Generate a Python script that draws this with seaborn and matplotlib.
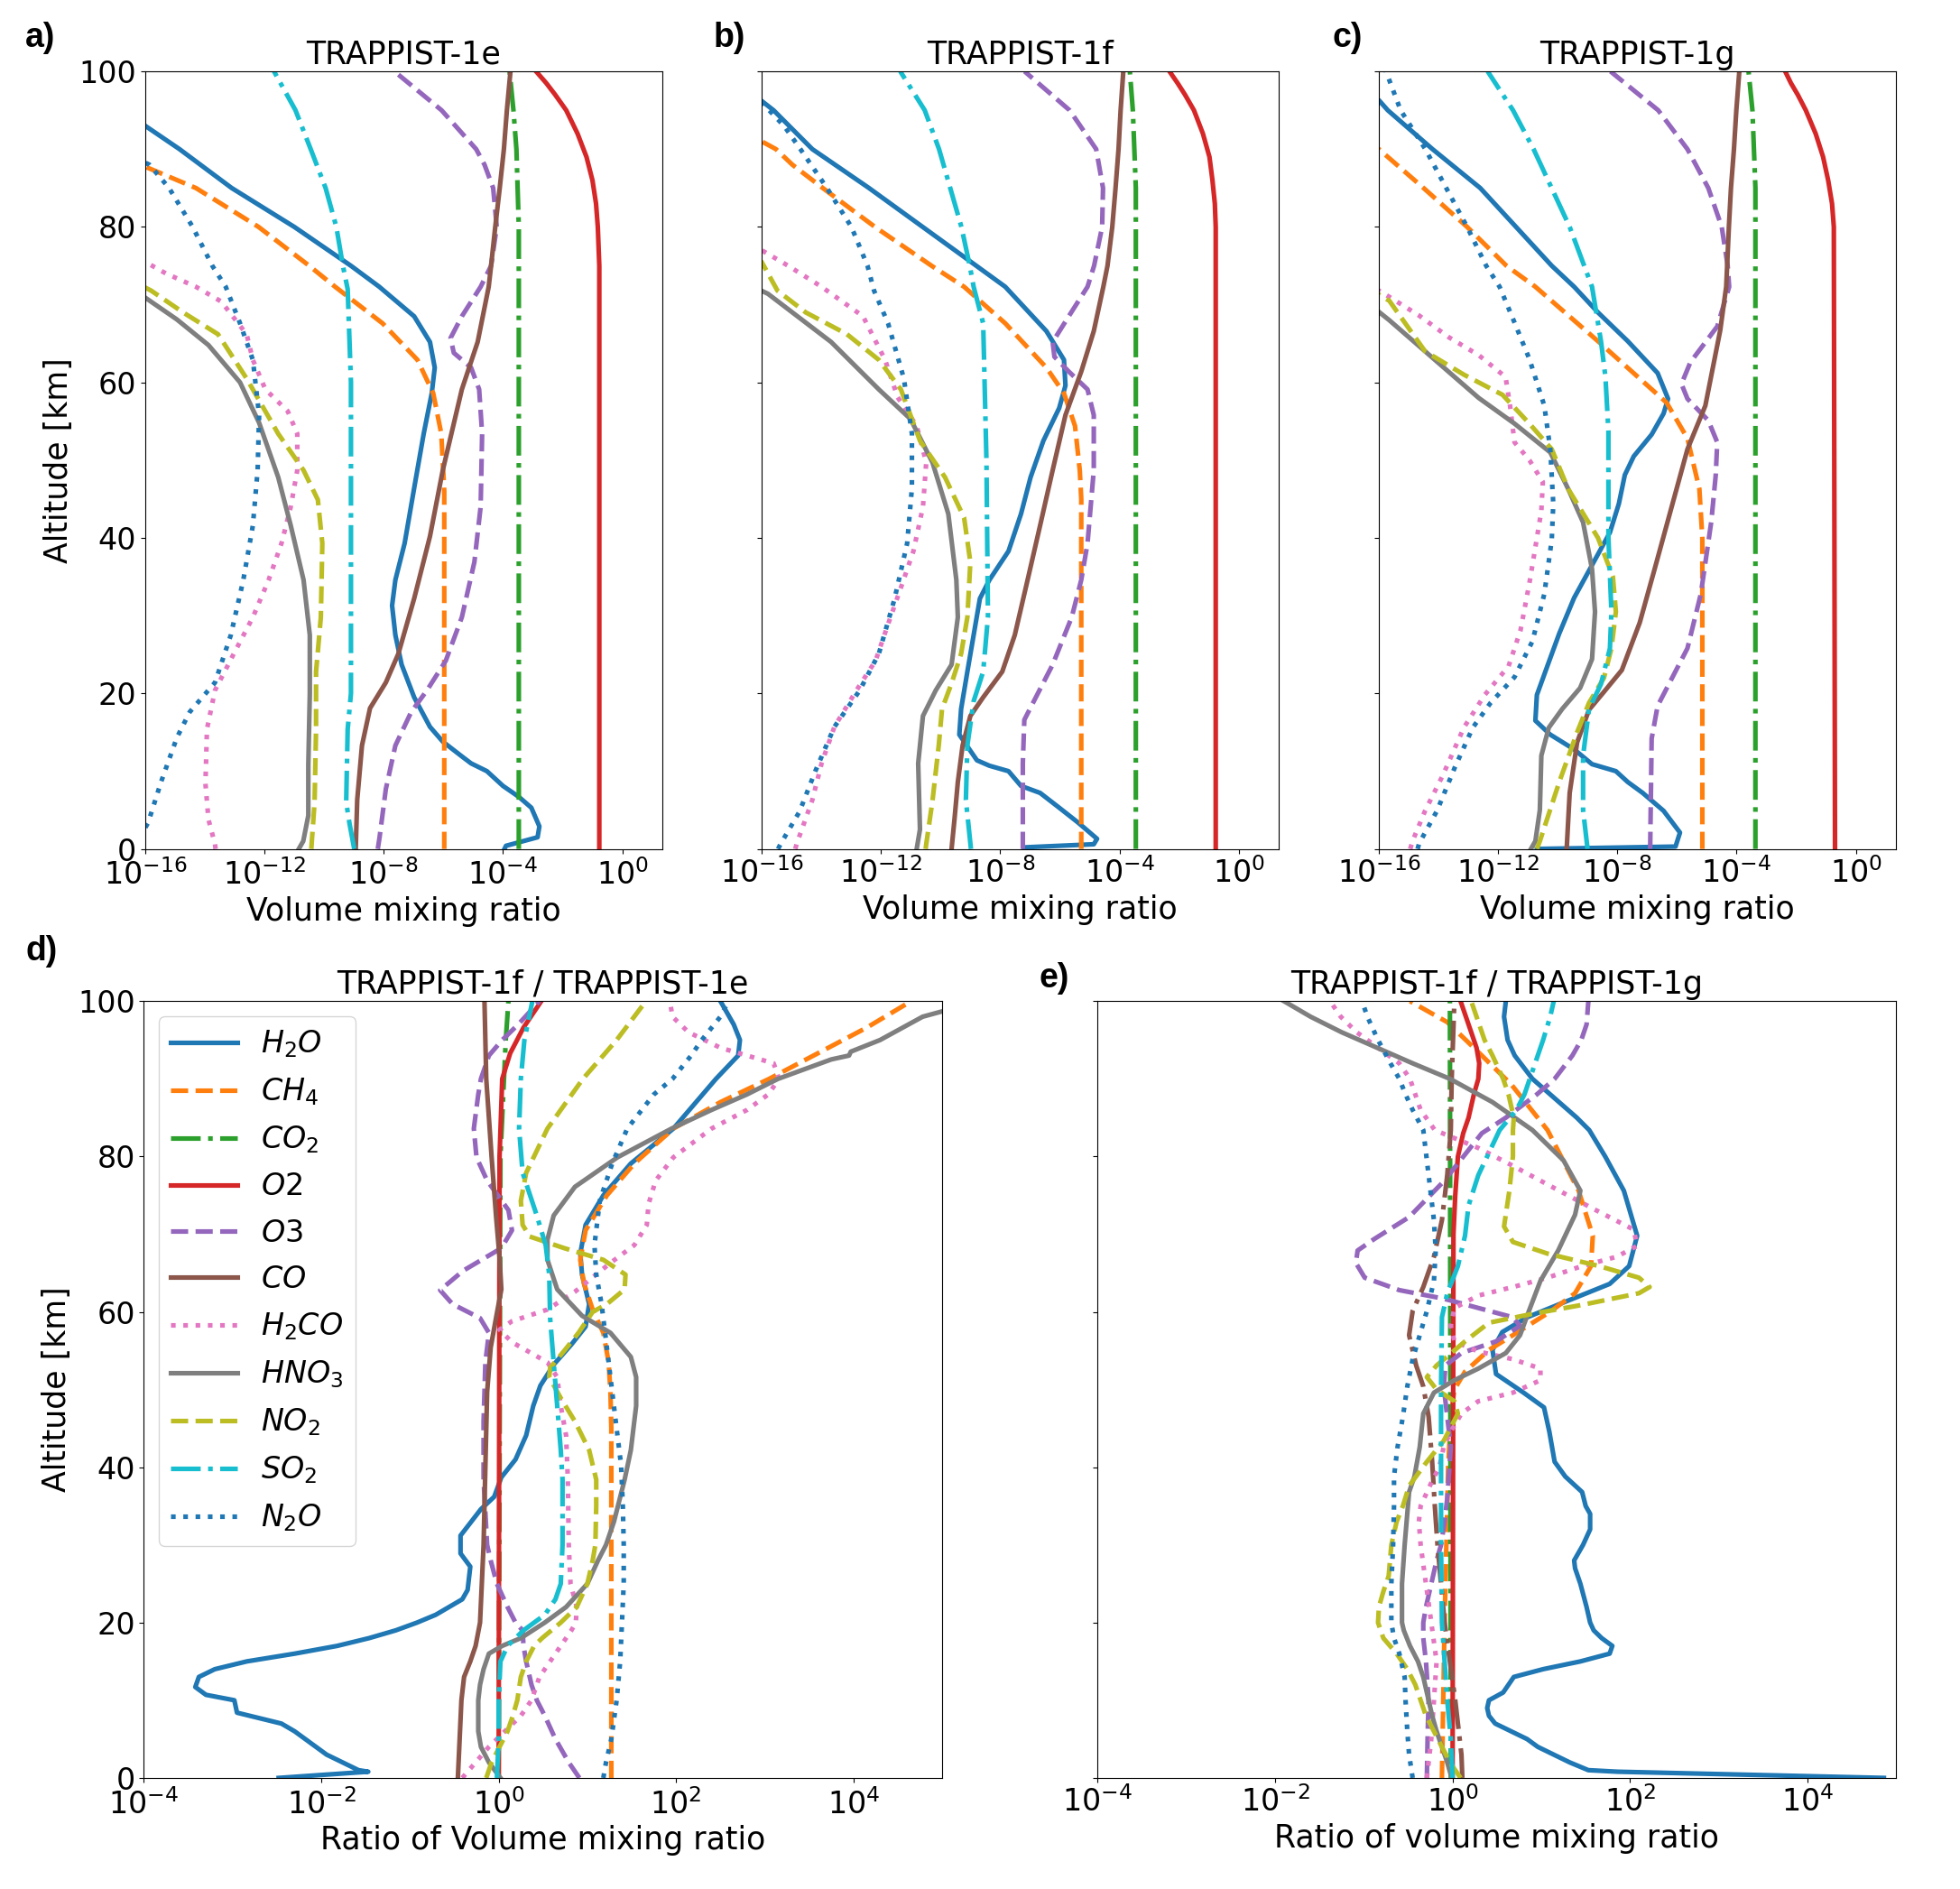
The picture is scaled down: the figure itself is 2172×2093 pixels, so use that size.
import matplotlib
matplotlib.use("Agg")
import matplotlib.pyplot as plt
from matplotlib.ticker import NullLocator
import seaborn as sns

# values: (altitude km, log10 value)

# ---- a) TRAPPIST-1e, volume mixing ratio ----
a_H2O = [(0,-3.95),(0.4,-3.9),(1.5,-2.84),(2.9,-2.78),(5.3,-3.05),(6.7,-3.47),(8.1,-4.0),(10,-4.54),(11,-5.07),(11.9,-5.38),(13.8,-6.02),(15.7,-6.45),(19.5,-6.98),(23.7,-7.4),(27.5,-7.61),(31.3,-7.72),(34.6,-7.61),(39.3,-7.3),(46.4,-6.98),(53.4,-6.66),(58.6,-6.39),(61.9,-6.29),(65.2,-6.45),(68.5,-6.98),(72.3,-8.15),(75,-9.1),(80,-11.0),(85,-13.1),(90,-14.85),(93,-16.0),(95,-16.6)]
a_CH4 = [(0,-5.97),(46,-5.97),(53.4,-6.07),(58.6,-6.34),(62.9,-6.87),(67.6,-8.04),(72.3,-9.63),(75,-10.5),(80,-12.2),(85,-14.3),(87.5,-15.85),(88.5,-16.5)]
a_CO2 = [(0,-3.47),(80,-3.47),(90,-3.55),(95,-3.65),(100,-3.78)]
a_O2 = [(0,-0.77),(75,-0.77),(80,-0.82),(83,-0.88),(86,-1.0),(89,-1.2),(92,-1.5),(95,-1.88),(97,-2.25),(98.5,-2.55),(100,-2.89)]
a_O3 = [(0,-8.2),(1.5,-8.14),(7.7,-7.93),(13.3,-7.61),(17.6,-7.08),(20.4,-6.55),(24.2,-5.92),(29.8,-5.38),(36.9,-4.96),(44,-4.75),(53.4,-4.7),(59.1,-4.8),(61.9,-5.07),(63.8,-5.65),(65.7,-5.76),(68.5,-5.38),(72.3,-4.75),(75,-4.4),(80,-4.21),(85,-4.33),(88,-4.62),(90,-4.9),(95,-6.06),(100,-7.64)]
a_CO = [(0,-8.94),(6.3,-8.89),(13.3,-8.73),(18.1,-8.46),(21.4,-7.93),(25.1,-7.51),(32.2,-6.98),(40.2,-6.45),(48.7,-6.02),(59.1,-5.38),(65.2,-4.85),(72.3,-4.48),(75,-4.4),(80,-4.26),(85,-4.11),(90,-3.97),(95,-3.87),(100,-3.75)]
a_H2CO = [(0,-13.64),(0.6,-13.66),(3.8,-13.88),(8.4,-13.98),(15.4,-13.93),(20.4,-13.66),(25.1,-13.03),(29.8,-12.39),(34.6,-11.86),(39.3,-11.43),(44,-11.12),(48.7,-10.9),(53.4,-10.9),(56.3,-11.22),(59.1,-11.97),(62.9,-12.39),(66.2,-12.6),(70.4,-13.45),(72.3,-14.3),(74,-15.3),(75.5,-16.0),(76.5,-16.4)]
a_HNO3 = [(0,-10.85),(1,-10.7),(4.3,-10.53),(10.8,-10.53),(20,-10.48),(27.5,-10.48),(34.6,-10.69),(41.6,-11.12),(47.8,-11.54),(54.8,-12.18),(60,-12.82),(64.8,-13.88),(68.1,-14.94),(70.9,-16.0),(72,-16.4)]
a_NO2 = [(0,-10.43),(6,-10.32),(15.4,-10.27),(22.8,-10.27),(29.8,-10.11),(39.3,-10.06),(44.9,-10.21),(48.7,-10.69),(53.4,-11.54),(60.5,-12.6),(66.2,-13.56),(69,-14.73),(71.8,-15.8),(73,-16.4)]
a_SO2 = [(0,-8.99),(3.3,-9.15),(6,-9.26),(15.4,-9.21),(20,-9.1),(60,-9.1),(72,-9.21),(75,-9.37),(80,-9.59),(85,-9.95),(90,-10.45),(95,-10.96),(100,-11.68)]
a_N2O = [(0,-16.4),(3.4,-15.9),(8.6,-15.47),(14.3,-14.94),(17.6,-14.51),(21.4,-13.66),(27.5,-13.13),(34.6,-12.71),(41.6,-12.39),(48.7,-12.23),(55.8,-12.18),(62.9,-12.39),(67.6,-12.82),(72.3,-13.3),(75,-13.75),(80,-14.41),(85,-15.2),(88,-15.86),(89,-16.4)]

# ---- b) TRAPPIST-1f ----
b_H2O = [(0,-7.2),(0.2,-7.19),(0.6,-4.86),(1.3,-4.75),(3.4,-5.39),(5.3,-6.02),(7.2,-6.66),(8.1,-7.3),(10,-7.72),(10.7,-8.36),(11.4,-8.78),(13.8,-9.21),(14.7,-9.37),(18,-9.31),(22.8,-9.1),(27.5,-8.89),(32.2,-8.68),(34.6,-8.36),(38.3,-7.72),(43.1,-7.3),(47.8,-6.98),(52.5,-6.55),(56.7,-6.02),(59.6,-5.81),(62.9,-5.86),(66.6,-6.45),(72.3,-7.83),(75,-8.8),(80,-10.6),(85,-12.4),(90,-14.3),(95,-15.6),(96.2,-16.0),(97,-16.4)]
b_CH4 = [(0,-5.28),(45,-5.28),(48.7,-5.33),(54.4,-5.49),(58.6,-5.86),(61.9,-6.45),(67.6,-7.83),(72.3,-9.21),(75,-10.3),(80,-12.2),(85,-13.95),(88,-14.97),(90,-15.52),(91,-16.0),(92,-16.5)]
b_CO2 = [(0,-3.45),(85,-3.45),(95,-3.55),(100,-3.65)]
b_O2 = [(0,-0.77),(80,-0.77),(83,-0.8),(86,-0.88),(89,-0.98),(92,-1.2),(95,-1.5),(97,-1.8),(98.5,-2.05),(100,-2.32)]
b_O3 = [(0,-7.24),(11,-7.24),(16.6,-7.19),(19,-6.87),(23.7,-6.24),(29.8,-5.6),(34.6,-5.28),(39.3,-5.07),(48.7,-4.86),(55.8,-4.86),(59.1,-5.07),(61.4,-5.7),(63.3,-6.18),(65.2,-6.24),(68.5,-5.7),(72.3,-5.07),(75,-4.85),(80,-4.58),(85,-4.55),(90,-4.78),(95,-5.67),(100,-7.18)]
b_CO = [(0,-9.63),(3.9,-9.53),(8.6,-9.42),(13.3,-9.26),(17.1,-9.0),(19.5,-8.57),(22.8,-7.93),(27.5,-7.51),(34.6,-7.08),(41.6,-6.66),(48.7,-6.24),(55.8,-5.81),(61.4,-5.28),(66.6,-4.86),(72.3,-4.54),(75,-4.4),(80,-4.24),(85,-4.13),(90,-4.03),(95,-3.96),(100,-3.87)]
b_H2CO = [(0,-14.87),(0.6,-14.83),(6.3,-14.3),(11,-13.99),(15.7,-13.56),(20.4,-12.82),(24.2,-12.18),(28.9,-11.76),(33.6,-11.33),(38.3,-10.91),(44,-10.59),(49.7,-10.48),(54.4,-10.8),(58.1,-11.44),(62.9,-11.86),(68.5,-12.6),(72.3,-13.99),(75,-15.11),(77,-16.0),(78,-16.5)]
b_HNO3 = [(0,-10.8),(2.5,-10.69),(11,-10.75),(17.1,-10.59),(20.4,-10.16),(23.7,-9.63),(29.8,-9.42),(34.6,-9.47),(43.1,-9.74),(49.7,-10.27),(55.3,-11.01),(59.1,-12.07),(65.2,-13.67),(71.4,-15.79),(72.5,-16.4)]
b_NO2 = [(0,-10.5),(0.6,-10.48),(6.2,-10.27),(13.3,-10.06),(18,-9.95),(21.3,-9.63),(25.1,-9.31),(29.8,-9.1),(36.9,-9.0),(42.6,-9.21),(47.8,-9.85),(52.5,-10.69),(59.1,-11.33),(62.9,-12.07),(66.2,-13.14),(69,-14.52),(71.8,-15.47),(75.5,-16.0),(76,-16.4)]
b_SO2 = [(0,-8.98),(6.3,-9.15),(13.3,-9.1),(19,-8.89),(22.8,-8.57),(29.8,-8.41),(50,-8.46),(67.6,-8.57),(72.3,-8.89),(75,-9.02),(80,-9.3),(90,-10.05),(95,-10.53),(100,-11.35)]
b_N2O = [(0,-15.45),(0.6,-15.37),(4.8,-14.73),(10,-14.2),(15.7,-13.56),(20.4,-12.71),(25.1,-12.07),(32.2,-11.54),(39.3,-11.12),(46.4,-10.96),(53.4,-10.96),(60.5,-11.23),(67.6,-11.76),(71.8,-12.23),(75,-12.45),(80,-12.99),(85,-13.81),(90,-14.7),(93,-15.25),(96,-16.0),(97,-16.4)]

# ---- c) TRAPPIST-1g ----
c_H2O = [(0,-10.7),(0.3,-6.05),(2.1,-5.9),(4.9,-6.45),(7.2,-7.15),(8.6,-7.65),(10,-8.05),(10.9,-8.85),(12.8,-9.45),(14.7,-10.25),(16.5,-10.75),(19.8,-10.7),(23.5,-10.35),(27.7,-9.95),(32.3,-9.45),(37.9,-8.65),(40.7,-8.25),(44.4,-7.95),(48.1,-7.75),(50.5,-7.45),(53.3,-6.85),(56,-6.45),(57.9,-6.3),(61.2,-6.65),(65.3,-7.65),(69,-8.65),(72.3,-9.45),(75,-10.2),(80,-11.4),(85,-12.6),(90,-14.2),(95,-15.7),(96.3,-16.0),(97,-16.4)]
c_CH4 = [(0,-5.15),(40,-5.15),(46.3,-5.25),(52.8,-5.65),(57.4,-6.35),(65.3,-8.65),(72.3,-10.75),(75,-11.72),(80,-13.04),(85,-14.5),(90,-16.0),(91,-16.3)]
c_CO2 = [(0,-3.37),(85,-3.37),(95,-3.47),(100,-3.6)]
c_O2 = [(0,-0.7),(80,-0.74),(83,-0.8),(86,-0.93),(89,-1.1),(92,-1.35),(95,-1.68),(97,-1.95),(98.5,-2.18),(100,-2.37)]
c_O3 = [(0,-6.9),(14.2,-6.85),(18.4,-6.65),(22.1,-6.15),(25.8,-5.65),(32.8,-5.2),(42.1,-4.85),(48.1,-4.7),(52.3,-4.65),(55.1,-4.95),(57.9,-5.65),(59.8,-5.85),(62.6,-5.55),(67.2,-4.65),(72.3,-4.25),(75,-4.3),(80,-4.5),(85,-4.95),(90,-5.65),(95,-6.63),(100,-8.23)]
c_CO = [(0,-9.7),(7.2,-9.6),(13.7,-9.35),(17.9,-8.95),(20.2,-8.45),(23,-7.85),(29.1,-7.25),(36,-6.75),(44.4,-6.15),(51.4,-5.65),(57,-5.05),(66.7,-4.55),(72.3,-4.35),(80,-4.26),(85,-4.19),(90,-4.09),(95,-4.01),(100,-3.91)]
c_H2CO = [(0,-14.95),(1.2,-14.85),(4.9,-14.45),(9.5,-13.85),(15.6,-13.15),(19.8,-12.45),(23.5,-11.65),(28.1,-11.25),(34.2,-10.95),(38.8,-10.75),(43.5,-10.55),(47.2,-10.5),(50,-10.95),(52.3,-11.45),(57,-11.6),(60.7,-11.75),(63.5,-12.65),(65.8,-13.65),(68.6,-14.65),(71,-15.65),(72.5,-16.3)]
c_HNO3 = [(0,-10.9),(1,-10.75),(5,-10.6),(12,-10.55),(15.6,-10.3),(18,-9.85),(20.7,-9.25),(24.4,-8.85),(30.5,-8.75),(36,-8.85),(42,-9.15),(46.3,-9.65),(51,-10.25),(54.7,-11.45),(58,-12.65),(63,-14.15),(68,-15.65),(70,-16.3)]
c_NO2 = [(0,-10.7),(1,-10.6),(8.6,-9.95),(15,-9.35),(18.8,-8.95),(22,-8.45),(25.8,-8.2),(30.5,-8.05),(35,-8.15),(40,-8.65),(46.3,-9.65),(51.4,-10.2),(54.7,-10.95),(58.4,-11.85),(61,-13.15),(64,-14.45),(70.5,-15.65),(72,-16.3)]
c_SO2 = [(0,-9.0),(5,-9.15),(12,-9.15),(18,-8.95),(21.2,-8.55),(25.8,-8.25),(30.5,-8.2),(40,-8.3),(53.7,-8.3),(60.7,-8.4),(65.3,-8.55),(72.3,-8.85),(80,-9.6),(90,-10.81),(95,-11.5),(100,-12.35)]
c_N2O = [(0,-14.7),(0.7,-14.65),(4.9,-14.05),(10.5,-13.45),(15.6,-12.85),(18.8,-12.25),(22.1,-11.45),(26.7,-10.85),(32.8,-10.45),(39.8,-10.2),(44.4,-10.15),(51.4,-10.25),(57,-10.45),(63,-10.95),(67.7,-11.45),(72.3,-11.95),(75,-12.4),(80,-13.04),(85,-13.74),(90,-14.44),(95,-15.27),(100,-15.76)]

# ---- d) ratio TRAPPIST-1f / TRAPPIST-1e ----
d_H2O = [(0,-2.48),(0.8,-1.47),(1,-1.58),(2,-1.76),(3,-1.94),(4,-2.06),(5,-2.18),(6,-2.3),(7,-2.45),(8.4,-2.95),(10,-2.98),(10.7,-3.3),(11.7,-3.42),(13,-3.38),(14,-3.2),(15,-2.84),(16,-2.3),(17,-1.82),(18,-1.46),(19,-1.16),(20,-0.92),(21,-0.71),(22,-0.56),(23,-0.41),(24.2,-0.35),(27.2,-0.32),(28.9,-0.43),(31.2,-0.43),(34.6,-0.2),(36.2,-0.05),(38.7,0.03),(41,0.19),(44.1,0.31),(47.9,0.39),(50.5,0.47),(53.2,0.62),(55.8,0.82),(58.1,0.98),(61,1.02),(64.8,0.94),(67.5,0.92),(71.2,0.98),(75,1.18),(79.1,1.49),(83.6,1.97),(88,2.3),(90,2.45),(93,2.7),(95,2.72),(97,2.65),(100,2.5)]
d_CH4 = [(0,1.27),(45,1.27),(49.7,1.26),(53.5,1.24),(57.3,1.18),(60.3,1.06),(63.7,0.96),(66.7,0.92),(70.5,0.98),(75,1.22),(79.1,1.53),(83.6,1.97),(87,2.5),(90,3.05),(93.3,3.6),(96.6,4.15),(100,4.65)]
d_CO2 = [(0,0.0),(80,0.02),(90,0.06),(95,0.08),(100,0.11)]
d_O2 = [(0,0.0),(80,0.01),(90,0.04),(93.3,0.13),(96.6,0.28),(100,0.48)]
d_O3 = [(0,0.91),(2,0.79),(5,0.64),(8,0.52),(10,0.43),(12,0.37),(15,0.31),(17,0.28),(19,0.27),(20,0.19),(22,0.1),(25,-0.02),(28,-0.09),(30,-0.13),(38.4,-0.17),(45.9,-0.17),(53.5,-0.15),(57.3,-0.11),(59.2,-0.21),(61,-0.52),(62.8,-0.66),(65.3,-0.4),(68.2,0.03),(70.5,0.15),(73.1,0.11),(76.9,-0.13),(79.9,-0.25),(83.6,-0.28),(88,-0.23),(90,-0.2),(93,-0.11),(95,0.04),(97,0.22),(100,0.46)]
d_CO = [(0,-0.46),(5,-0.44),(10,-0.42),(13,-0.39),(15,-0.32),(17,-0.26),(20,-0.21),(25,-0.19),(30,-0.17),(40,-0.15),(49.7,-0.13),(55.4,-0.09),(59.2,-0.03),(62.9,0.03),(67,0.01),(72.4,-0.03),(80,-0.08),(85,-0.11),(90,-0.14),(100,-0.16)]
d_H2CO = [(0,-0.41),(2,-0.26),(4,-0.11),(6,0.07),(8,0.25),(10,0.37),(13,0.46),(15,0.58),(17,0.7),(19,0.82),(20,0.87),(22,0.88),(25,0.81),(30,0.79),(38.4,0.78),(44.1,0.76),(47.9,0.7),(51.6,0.66),(53.5,0.55),(56.1,0.15),(57.7,0.01),(58.8,0.15),(60.3,0.55),(62.6,0.86),(66.3,1.26),(68.6,1.53),(71.2,1.67),(73.9,1.69),(76.9,1.77),(79.9,1.97),(83.6,2.4),(86,2.8),(88,3.04),(90,3.16),(92,3.1),(94,2.5),(96,2.14),(98,1.96),(100,1.93)]
d_HNO3 = [(0,0.02),(2,-0.11),(4,-0.2),(6,-0.23),(10,-0.23),(12,-0.21),(14,-0.17),(16,-0.11),(17,0.04),(18,0.25),(20,0.52),(22,0.76),(25,1.0),(28,1.12),(30,1.21),(33,1.3),(38.4,1.42),(42.2,1.49),(47.9,1.55),(51.6,1.55),(54.2,1.49),(57.3,1.26),(59.5,0.94),(62.9,0.66),(66.7,0.55),(69.3,0.55),(72.4,0.62),(76.1,0.86),(79.9,1.34),(83.6,1.95),(86,2.4),(88,2.8),(90,3.15),(92.5,3.75),(93,3.95),(93.5,3.97),(95,4.3),(98,4.78),(99,5.1)]
d_NO2 = [(0,-0.14),(2,-0.08),(4,0.01),(6,0.1),(8,0.16),(10,0.21),(13,0.25),(15,0.31),(17,0.4),(18,0.49),(20,0.7),(22,0.88),(25,1.0),(28,1.06),(30,1.09),(35,1.1),(38.4,1.1),(42.2,1.02),(45.9,0.86),(48.9,0.7),(51.6,0.57),(52.8,0.58),(55,0.74),(57.3,0.9),(60,1.06),(61,1.22),(62.9,1.42),(64.8,1.43),(66.7,1.18),(68.2,0.74),(69.7,0.35),(71.2,0.27),(74.3,0.25),(77.9,0.31),(83.6,0.55),(90,0.95),(95,1.33),(100,1.66)]
d_SO2 = [(0,-0.02),(5,0.0),(10,0.0),(15,0.02),(17,0.1),(19,0.28),(21,0.52),(23,0.64),(25,0.7),(30,0.72),(38.4,0.72),(42.2,0.7),(47.9,0.66),(53.5,0.62),(59.2,0.58),(64.8,0.57),(68.6,0.53),(72.4,0.43),(77.9,0.27),(83.6,0.23),(90,0.25),(95,0.29),(100,0.38)]
d_N2O = [(0,1.18),(2,1.21),(5,1.27),(10,1.33),(15,1.37),(20,1.39),(25,1.41),(30,1.41),(35,1.4),(40.3,1.38),(45.9,1.32),(51.6,1.26),(57.3,1.2),(61,1.16),(64.8,1.1),(68.6,1.08),(74.3,1.14),(79.1,1.28),(83.6,1.45),(88,1.75),(90,1.96),(93,2.17),(95,2.29),(98,2.5),(100,2.59)]

# ---- e) ratio TRAPPIST-1f / TRAPPIST-1g ----
e_H2O = [(0,4.86),(0.8,1.86),(1,1.53),(2,1.32),(3,1.14),(4,0.96),(5,0.84),(6,0.66),(7,0.48),(8,0.41),(9,0.39),(10,0.41),(11,0.57),(12,0.63),(13,0.69),(14,1.02),(15,1.44),(16,1.77),(17,1.8),(18,1.68),(19,1.59),(20,1.55),(22,1.51),(25,1.44),(27,1.38),(28,1.37),(30,1.47),(32,1.55),(34,1.55),(35,1.5),(36.8,1.46),(38.8,1.27),(40.7,1.15),(44.6,1.09),(47.7,1.03),(49.6,0.8),(52,0.49),(55.1,0.45),(57.4,0.56),(59.3,0.84),(61.3,1.27),(63.6,1.77),(65.9,1.99),(69.8,2.08),(75.6,1.93),(80,1.72),(83.4,1.54),(85,1.4),(88,1.1),(90,0.9),(93,0.7),(95,0.62),(98,0.58),(100,0.6)]
e_CH4 = [(0,-0.12),(20,-0.09),(40,-0.05),(46.5,-0.02),(50,0.02),(52.3,0.14),(55.1,0.41),(57,0.68),(60.1,1.11),(62.4,1.38),(65.9,1.56),(69.8,1.58),(75.6,1.42),(83.4,1.07),(89.3,0.66),(94,0.24),(97.3,-0.06),(100,-0.48)]
e_CO2 = [(0,-0.02),(100,-0.03)]
e_O2 = [(0,0.0),(70,0.01),(75,0.03),(80,0.06),(83,0.12),(85,0.18),(88,0.24),(90,0.29),(92,0.3),(94,0.27),(96,0.21),(98,0.15),(100,0.09)]
e_O3 = [(0,-0.29),(6,-0.28),(10,-0.27),(15,-0.3),(18,-0.33),(20,-0.33),(22,-0.3),(25,-0.24),(28,-0.18),(30,-0.13),(33,-0.09),(36,-0.06),(42.6,-0.02),(46.5,-0.06),(50.4,-0.1),(53.1,-0.08),(54.7,0.1),(56.2,0.49),(58.2,0.76),(59.3,0.68),(60.5,0.29),(61.7,-0.1),(62.8,-0.6),(64.4,-0.99),(66.3,-1.09),(67.9,-1.07),(69.4,-0.88),(72.2,-0.49),(76.8,-0.1),(83,0.33),(85,0.6),(88,0.95),(90,1.15),(93,1.35),(95,1.45),(97,1.51),(100,1.53)]
e_CO = [(0,0.11),(3,0.1),(6,0.07),(10,0.03),(15,-0.03),(20,-0.09),(25,-0.13),(30,-0.17),(35,-0.2),(40.7,-0.23),(46.5,-0.27),(50.4,-0.33),(53.1,-0.41),(57,-0.49),(60.1,-0.45),(63.2,-0.33),(67.1,-0.21),(71.8,-0.12),(77.6,-0.06),(83.4,-0.02),(90,-0.01),(100,0.02)]
e_H2CO = [(0,-0.29),(5,-0.24),(10,-0.21),(15,-0.18),(20,-0.24),(25,-0.3),(30,-0.36),(33,-0.38),(35,-0.36),(38,-0.24),(40,-0.15),(42.6,-0.1),(44.6,-0.02),(46.9,0.1),(48.5,0.29),(49.6,0.68),(51.2,0.99),(52.7,0.99),(53.9,0.68),(54.9,0.29),(56.2,0.02),(58.2,-0.02),(60.5,0.02),(62.1,0.29),(63.2,0.68),(64.4,1.07),(65.9,1.46),(67.1,1.85),(68.5,2.08),(70.6,2.04),(73.3,1.58),(76.4,1.07),(78.8,0.68),(81.1,0.29),(83.4,-0.2),(86,-0.36),(88,-0.42),(90,-0.48),(92,-0.6),(94,-0.84),(96,-1.08),(98,-1.26),(100,-1.38)]
e_HNO3 = [(0,-0.01),(2,-0.06),(4,-0.12),(6,-0.18),(8,-0.23),(10,-0.27),(13,-0.33),(15,-0.39),(17,-0.48),(19,-0.55),(20,-0.57),(25,-0.57),(30,-0.54),(36.8,-0.49),(38.8,-0.43),(42.6,-0.37),(46.9,-0.33),(49.6,-0.21),(51.2,0.02),(52.7,0.29),(54.7,0.6),(57,0.76),(60.1,0.86),(64,0.99),(67.9,1.19),(72.5,1.38),(75.6,1.44),(79.5,1.25),(83.4,0.9),(85,0.7),(87,0.45),(90,-0.03),(92,-0.45),(94,-0.85),(96,-1.25),(98,-1.6),(100,-1.9)]
e_NO2 = [(0,0.09),(2,-0.03),(4,-0.12),(6,-0.21),(8,-0.3),(10,-0.36),(12,-0.42),(14,-0.51),(16,-0.63),(18,-0.78),(20,-0.84),(22,-0.83),(24,-0.78),(26,-0.72),(30,-0.69),(33,-0.63),(35,-0.56),(37.6,-0.49),(40.7,-0.29),(43.4,-0.1),(46.9,0.06),(48.5,0.02),(50,-0.18),(51.6,-0.29),(53.1,-0.18),(56.2,0.14),(58.6,0.41),(59.7,0.88),(60.9,1.46),(62.4,2.1),(63.2,2.22),(64.4,2.1),(65.9,1.65),(67.5,1.07),(69,0.68),(71,0.58),(75.6,0.64),(80,0.68),(83.4,0.68),(85,0.69),(88,0.63),(90,0.57),(93,0.45),(95,0.36),(98,0.27),(100,0.21)]
e_SO2 = [(0,0.0),(5,-0.02),(10,-0.06),(15,-0.09),(20,-0.12),(30,-0.13),(50,-0.13),(59.3,-0.12),(62.4,-0.06),(65.9,0.06),(69.8,0.14),(73.7,0.18),(77.6,0.29),(83.4,0.53),(86,0.72),(88,0.81),(90,0.87),(93,0.96),(95,1.02),(98,1.1),(100,1.14)]
e_N2O = [(0,-0.45),(3,-0.49),(6,-0.51),(10,-0.53),(13,-0.54),(16,-0.6),(18,-0.66),(20,-0.69),(25,-0.69),(30,-0.67),(35,-0.66),(38.8,-0.66),(42.6,-0.62),(46.5,-0.56),(50.4,-0.51),(53.9,-0.45),(57,-0.37),(60.1,-0.29),(64,-0.21),(67.9,-0.19),(71.8,-0.21),(77.6,-0.27),(83.4,-0.33),(86,-0.45),(88,-0.53),(90,-0.6),(92,-0.7),(95,-0.84),(98,-0.96),(100,-1.02)]

labels = [r"$H_2O$", r"$CH_4$", r"$CO_2$", r"$O2$", r"$O3$", r"$CO$",
          r"$H_2CO$", r"$HNO_3$", r"$NO_2$", r"$SO_2$", r"$N_2O$"]
pal = sns.color_palette("tab10")
colors = [pal[0], pal[1], pal[2], pal[3], pal[4], pal[5], pal[6], pal[7], pal[8], pal[9], pal[0]]
styles = ["-", "--", "-.", "-", "--", "-", ":", "-", "--", "-.", ":"]
styles_e = ["-", "--", "-.", "-", "--", "-.", ":", "-", "--", "-.", ":"]

panel_a = [a_H2O, a_CH4, a_CO2, a_O2, a_O3, a_CO, a_H2CO, a_HNO3, a_NO2, a_SO2, a_N2O]
panel_b = [b_H2O, b_CH4, b_CO2, b_O2, b_O3, b_CO, b_H2CO, b_HNO3, b_NO2, b_SO2, b_N2O]
panel_c = [c_H2O, c_CH4, c_CO2, c_O2, c_O3, c_CO, c_H2CO, c_HNO3, c_NO2, c_SO2, c_N2O]
panel_d = [d_H2O, d_CH4, d_CO2, d_O2, d_O3, d_CO, d_H2CO, d_HNO3, d_NO2, d_SO2, d_N2O]
panel_e = [e_H2O, e_CH4, e_CO2, e_O2, e_O3, e_CO, e_H2CO, e_HNO3, e_NO2, e_SO2, e_N2O]

TICK = 24
LAB = 25


def draw(ax, profiles, ls, xlim, xticks, add_labels=False):
    ax.set_xscale("log")
    for i, prof in enumerate(profiles):
        alt = [p[0] for p in prof]
        val = [10 ** p[1] for p in prof]
        sns.lineplot(x=val, y=alt, ax=ax, sort=False, estimator=None,
                     color=colors[i], linestyle=ls[i], linewidth=3.7,
                     label=labels[i] if add_labels else None, legend=False)
    ax.set_xlim(xlim)
    ax.set_ylim(0, 100)
    ax.set_xticks(xticks)
    ax.xaxis.set_minor_locator(NullLocator())
    ax.set_yticks([0, 20, 40, 60, 80, 100])
    ax.tick_params(labelsize=TICK)
    ax.set_xlabel("")
    ax.set_ylabel("")


fig = plt.figure(figsize=(21.72, 20.93), dpi=100)
fig.patch.set_facecolor("white")

vmr_ticks = [1e-16, 1e-12, 1e-8, 1e-4, 1e0]
ratio_ticks = [1e-4, 1e-2, 1e0, 1e2, 1e4]

ax_a = fig.add_axes([0.0741, 0.5506, 0.2638, 0.4116])
ax_b = fig.add_axes([0.3886, 0.5506, 0.2638, 0.4116])
ax_c = fig.add_axes([0.7035, 0.5506, 0.2638, 0.4116])
ax_d = fig.add_axes([0.0734, 0.0588, 0.4073, 0.4112])
ax_e = fig.add_axes([0.5600, 0.0588, 0.4075, 0.4112])

for ax, prof, title in [(ax_a, panel_a, "TRAPPIST-1e"),
                        (ax_b, panel_b, "TRAPPIST-1f"),
                        (ax_c, panel_c, "TRAPPIST-1g")]:
    draw(ax, prof, styles, (1e-16, 22), vmr_ticks)
    ax.set_title(title, fontsize=LAB)
    ax.set_xlabel("Volume mixing ratio", fontsize=LAB)

draw(ax_d, panel_d, styles, (1e-4, 1e5), ratio_ticks, add_labels=True)
ax_d.set_title("TRAPPIST-1f / TRAPPIST-1e", fontsize=LAB)
ax_d.set_xlabel("Ratio of Volume mixing ratio", fontsize=LAB)
ax_d.legend(loc="upper left", fontsize=TICK, handlelength=2.2, labelspacing=0.55)

draw(ax_e, panel_e, styles_e, (1e-4, 1e5), ratio_ticks)
ax_e.set_title("TRAPPIST-1f / TRAPPIST-1g", fontsize=LAB)
ax_e.set_xlabel("Ratio of volume mixing ratio", fontsize=LAB)

ax_a.set_ylabel("Altitude [km]", fontsize=LAB)
ax_d.set_ylabel("Altitude [km]", fontsize=LAB)
for ax in [ax_b, ax_c, ax_e]:
    ax.tick_params(labelleft=False)
for ax in [ax_a, ax_d]:
    ax.tick_params(axis="x", pad=5)

# panel letters
for txt, x, y in [("a)", 0.013, 0.980), ("b)", 0.364, 0.980), ("c)", 0.680, 0.980),
                  ("d)", 0.013, 0.4965), ("e)", 0.530, 0.482)]:
    fig.text(x, y, txt, fontsize=27, fontweight="bold", va="center",
             family=["Liberation Sans", "DejaVu Sans"])

fig.savefig("out.png", dpi=100)
